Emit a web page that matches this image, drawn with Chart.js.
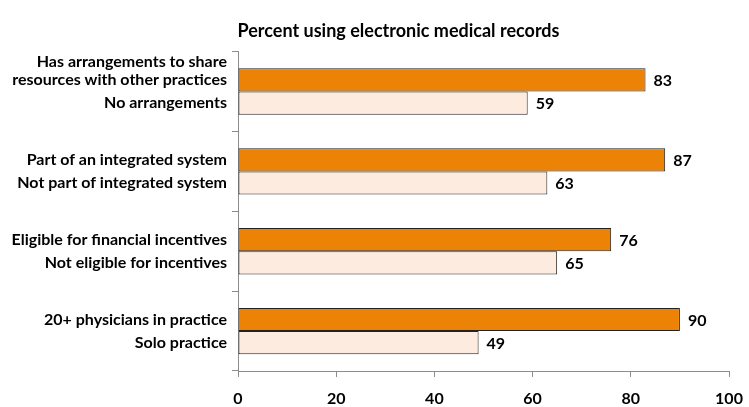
<!DOCTYPE html>
<html>
<head>
<meta charset="utf-8">
<script src="https://cdn.jsdelivr.net/npm/chart.js@4"></script>
<style>
  html, body { margin: 0; padding: 0; background: #fff; }
  #wrap { width: 749px; height: 407px; }
</style>
</head>
<body>
<div id="wrap"><canvas id="chart"></canvas></div>
<script>
// Data
const groups = ['Shared resources', 'Integrated system', 'Incentives', 'Practice size'];
const topLabels = [
    ['Has arrangements to share', 'resources with other practices'],
    ['Part of an integrated system'],
    ['Eligible for financial incentives'],
    ['20+ physicians in practice']
];
const bottomLabels = [
    ['No arrangements'],
    ['Not part of integrated system'],
    ['Not eligible for incentives'],
    ['Solo practice']
];
const topValues = [83, 87, 76, 90];
const bottomValues = [59, 63, 65, 49];
const xTicks = [0, 20, 40, 60, 80, 100];

const FONT = 'Lato, "Open Sans", sans-serif';
const axisGrey = '#8c8c8c';

// Draw bar labels and values next to each bar
const barLabels = {
    id: 'barLabels',
    afterDatasetsDraw(chart) {
        const ctx = chart.ctx;
        const left = chart.chartArea.left;
        const labelSets = [topLabels, bottomLabels];
        ctx.save();
        ctx.fillStyle = '#000';
        ctx.textBaseline = 'middle';
        chart.data.datasets.forEach((ds, i) => {
            const meta = chart.getDatasetMeta(i);
            meta.data.forEach((bar, j) => {
                // value
                ctx.font = 'bold 16px ' + FONT;
                ctx.textAlign = 'left';
                ctx.fillText(ds.data[j], bar.x + 8, bar.y + 1);
                // category label, last line on the bar centre
                const lines = labelSets[i][j];
                ctx.font = 'bold 16px ' + FONT;
                ctx.textAlign = 'right';
                lines.forEach((line, k) => {
                    const y = bar.y + (k - (lines.length - 1)) * 18;
                    ctx.fillText(line, left - 11, y);
                });
            });
        });
        ctx.restore();
    }
};

const ctx = document.getElementById('chart').getContext('2d');
const chart = new Chart(ctx, {
    type: 'bar',
    data: {
        labels: groups,
        datasets: [{
            data: topValues,
            backgroundColor: '#ec8206',
            borderColor: '#222',
            borderWidth: 1,
            borderSkipped: false,
            categoryPercentage: 0.58,
            barPercentage: 1
        }, {
            data: bottomValues,
            backgroundColor: '#fdebdf',
            borderColor: '#222',
            borderWidth: 1,
            borderSkipped: false,
            categoryPercentage: 0.58,
            barPercentage: 1
        }]
    },
    options: {
        indexAxis: 'y',
        responsive: true,
        maintainAspectRatio: false,
        animation: false,
        layout: {
            padding: { left: 68, right: 20, top: 0, bottom: 0 }
        },
        scales: {
            x: {
                min: 0,
                max: 100,
                afterBuildTicks: (scale) => {
                    scale.ticks = xTicks.map(v => ({ value: v }));
                },
                afterFit: (scale) => {
                    scale.height = 36;
                    scale.paddingLeft = 0;
                    scale.paddingRight = 0;
                },
                grid: {
                    drawOnChartArea: false,
                    drawTicks: true,
                    tickLength: 6,
                    color: axisGrey
                },
                border: { color: axisGrey, width: 1 },
                ticks: {
                    color: '#000',
                    padding: 12,
                    font: { family: FONT, size: 16, weight: 'bold' }
                }
            },
            y: {
                grid: {
                    offset: true,
                    drawOnChartArea: false,
                    drawTicks: true,
                    tickLength: 6,
                    color: axisGrey
                },
                border: { color: axisGrey, width: 1 },
                ticks: { display: false },
                afterFit: (scale) => {
                    scale.width = 170;
                }
            }
        },
        plugins: {
            legend: { display: false },
            tooltip: { enabled: false },
            title: {
                display: true,
                text: 'Percent using electronic medical records',
                color: '#000',
                font: { family: FONT, size: 18, weight: 'bold' },
                padding: { top: 20, bottom: 10 }
            }
        }
    },
    plugins: [barLabels]
});
</script>
</body>
</html>
